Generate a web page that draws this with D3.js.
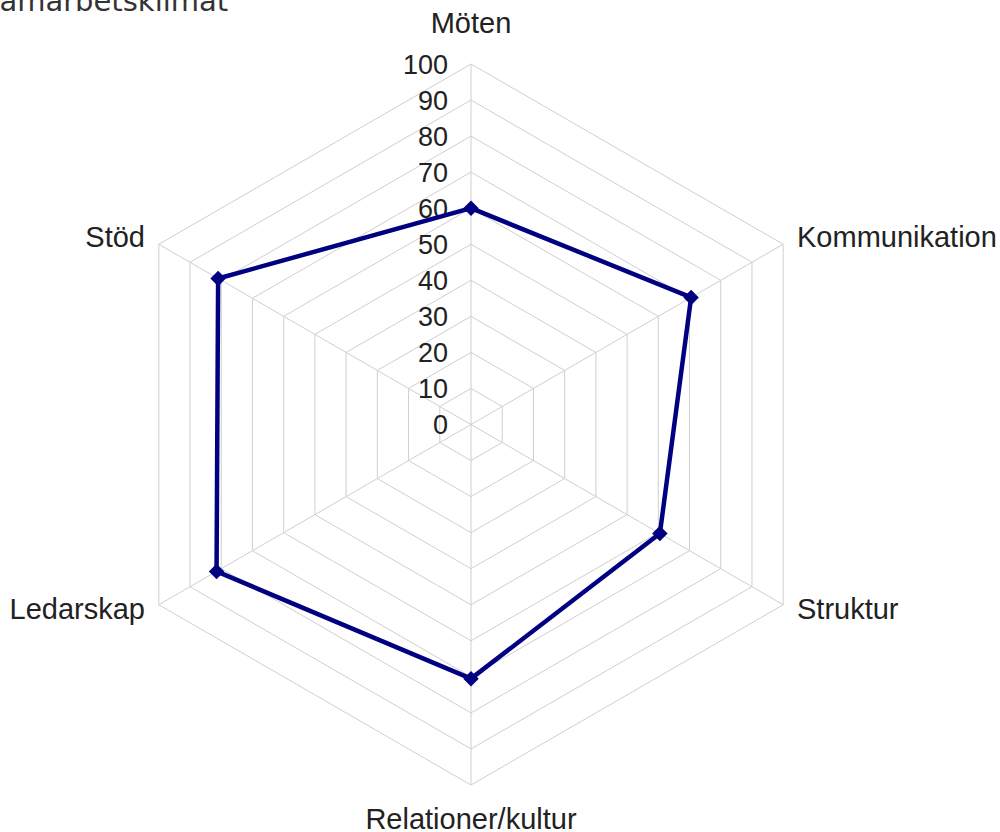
<!DOCTYPE html>
<html>
<head>
<meta charset="utf-8">
<script src="https://cdn.jsdelivr.net/npm/d3@7"></script>
<style>
  body { margin: 0; background: #fff; }
  svg { display: block; }
</style>
</head>
<body>
<div id="chart"></div>
<script>
// Chart data
const categories = ["Möten", "Kommunikation", "Struktur", "Relationer/kultur", "Ledarskap", "Stöd"];
const values = [60, 70.5, 60.5, 70.5, 81.5, 81];
const ticks = [0, 10, 20, 30, 40, 50, 60, 70, 80, 90, 100];
const title = "Samarbetsklimat";

const width = 1000, height = 832;
const cx = 471, cy = 424.5, radius = 360.5;

const svg = d3.select("#chart")
  .append("svg")
  .attr("width", width)
  .attr("height", height);

// radial scale
const r = d3.scaleLinear().domain([0, 100]).range([0, radius]);
const angle = i => (i / categories.length) * 2 * Math.PI;
const px = (i, v) => cx + r(v) * Math.sin(angle(i));
const py = (i, v) => cy - r(v) * Math.cos(angle(i));

const g = svg.append("g");

// Grid rings
ticks.slice(1).forEach(t => {
  const pts = categories.map((c, i) => [px(i, t), py(i, t)]);
  g.append("path")
    .attr("d", d3.line()(pts) + "Z")
    .attr("fill", "none")
    .attr("stroke", "#cfcfcf")
    .attr("stroke-width", 1);
});

// Spokes
categories.forEach((c, i) => {
  g.append("line")
    .attr("x1", cx).attr("y1", cy)
    .attr("x2", px(i, 100)).attr("y2", py(i, 100))
    .attr("stroke", "#cfcfcf")
    .attr("stroke-width", 1);
});

// Tick labels
g.selectAll(".tick-label")
  .data(ticks)
  .enter()
  .append("text")
  .attr("class", "tick-label")
  .attr("x", cx - 23)
  .attr("y", d => cy - r(d))
  .attr("dy", "0.36em")
  .attr("text-anchor", "end")
  .attr("font-family", "Liberation Sans, Arial, sans-serif")
  .attr("font-size", 27)
  .attr("fill", "#222")
  .text(d => d);

// Series line
const linePts = values.map((v, i) => [px(i, v), py(i, v)]);
g.append("path")
  .attr("d", d3.line()(linePts) + "Z")
  .attr("fill", "none")
  .attr("stroke", "#000080")
  .attr("stroke-width", 4.5)
  .attr("stroke-linejoin", "round");

// Markers
g.selectAll(".marker")
  .data(values)
  .enter()
  .append("path")
  .attr("class", "marker")
  .attr("d", d3.symbol().type(d3.symbolSquare).size(120))
  .attr("transform", (d, i) => `translate(${px(i, d)},${py(i, d)}) rotate(45)`)
  .attr("fill", "#000080");

// Category labels
const labelPos = [
  {x: 471, y: 33, anchor: "middle"},
  {x: 797, y: 247, anchor: "start"},
  {x: 797, y: 619, anchor: "start"},
  {x: 471, y: 829, anchor: "middle"},
  {x: 145, y: 619, anchor: "end"},
  {x: 145, y: 247, anchor: "end"}
];
g.selectAll(".cat-label")
  .data(categories)
  .enter()
  .append("text")
  .attr("class", "cat-label")
  .attr("x", (d, i) => labelPos[i].x)
  .attr("y", (d, i) => labelPos[i].y)
  .attr("text-anchor", (d, i) => labelPos[i].anchor)
  .attr("font-family", "Liberation Sans, Arial, sans-serif")
  .attr("font-size", 29)
  .attr("fill", "#222")
  .text(d => d);

// Title (partly outside the view, as in the source)
svg.append("text")
  .attr("x", -19)
  .attr("y", 11)
  .attr("font-family", "DejaVu Sans, sans-serif")
  .attr("font-size", 29)
  .attr("fill", "#333")
  .text(title);
</script>
</body>
</html>
